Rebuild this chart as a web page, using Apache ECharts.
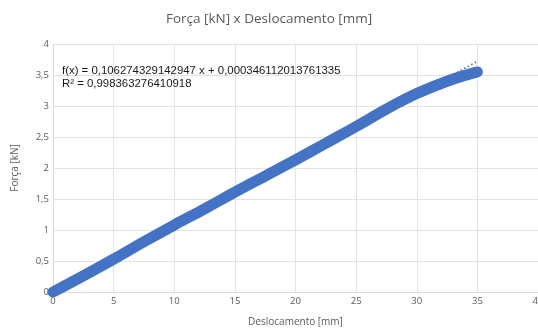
<!DOCTYPE html>
<html>
<head>
<meta charset="utf-8">
<script src="https://cdn.jsdelivr.net/npm/echarts@6/dist/echarts.min.js"></script>
<style>html,body{margin:0;padding:0;background:#fff}#c{width:538px;height:332px}</style>
</head>
<body>
<div id="c"></div>
<script>
var deslocamento = [0, 2.5, 5, 7.5, 10, 12.5, 15, 17.5, 20, 22.5, 25, 27.5, 30, 32.5, 35];
var forca = [0, 0.26, 0.53, 0.81, 1.08, 1.34, 1.61, 1.87, 2.13, 2.40, 2.67, 2.95, 3.20, 3.40, 3.55];
var trendSlope = 0.106274329142947;
var trendIntercept = 0.000346112013761335;
var trendX = [0, 35];
var eqLine1 = 'f(x) = 0,106274329142947 x + 0,000346112013761335';
var eqLine2 = 'R² = 0,998363276410918';
var titleText = 'Força [kN] x Deslocamento [mm]';
var xName = 'Deslocamento [mm]';
var yName = 'Força [kN]';

var dataPts = deslocamento.map(function (x, i) { return [x, forca[i]]; });
var trendPts = trendX.map(function (x) { return [x, trendSlope * x + trendIntercept]; });
function fmt(v) { return String(v).replace('.', ','); }

var chart = echarts.init(document.getElementById('c'), null, {renderer: 'canvas'});
chart.setOption({
  animation: false,
  backgroundColor: '#fff',
  title: {
    text: titleText, left: 'center', top: 7,
    textStyle: {fontFamily: 'Open Sans', fontSize: 13.5, fontWeight: 'normal', color: '#595959'}
  },
  grid: {left: 53, right: 0, top: 44, bottom: 40, containLabel: false, outerBoundsMode: 'none'},
  xAxis: {
    type: 'value', min: 0, max: 40, interval: 5,
    name: xName, nameLocation: 'middle', nameGap: 25,
    nameTextStyle: {fontFamily: 'Open Sans', fontSize: 10, color: '#595959'},
    axisLine: {show: true, lineStyle: {color: '#d9d9d9', width: 1}},
    axisTick: {show: false},
    axisLabel: {fontFamily: 'Open Sans', fontSize: 9.5, color: '#595959', margin: 4, formatter: fmt},
    splitLine: {show: true, lineStyle: {color: '#e3e3e3', width: 1}}
  },
  yAxis: {
    type: 'value', min: 0, max: 4, interval: 0.5,
    name: yName, nameLocation: 'middle', nameGap: 33, nameRotate: 90,
    nameTextStyle: {fontFamily: 'Open Sans', fontSize: 10, color: '#595959'},
    axisLine: {show: true, lineStyle: {color: '#d9d9d9', width: 1}},
    axisTick: {show: false},
    axisLabel: {fontFamily: 'Open Sans', fontSize: 9.5, color: '#595959', margin: 4, formatter: fmt},
    splitLine: {show: true, lineStyle: {color: '#e3e3e3', width: 1}}
  },
  series: [
    {
      type: 'line', data: trendPts, showSymbol: false, z: 2,
      lineStyle: {color: '#4472C4', width: 1.6, type: [1.5, 2.5]}
    },
    {
      type: 'line', data: dataPts, showSymbol: false, smooth: 0.4, z: 3,
      lineStyle: {color: '#4472C4', width: 11, cap: 'round', join: 'round'}
    }
  ],
  graphic: [
    {type: 'text', left: 62, top: 65, z: 10,
     style: {text: eqLine1, font: '11.4px "Liberation Sans"', fill: '#1a1a1a'}},
    {type: 'text', left: 62, top: 78, z: 10,
     style: {text: eqLine2, font: '11.4px "Liberation Sans"', fill: '#1a1a1a'}}
  ]
});
</script>
</body>
</html>
